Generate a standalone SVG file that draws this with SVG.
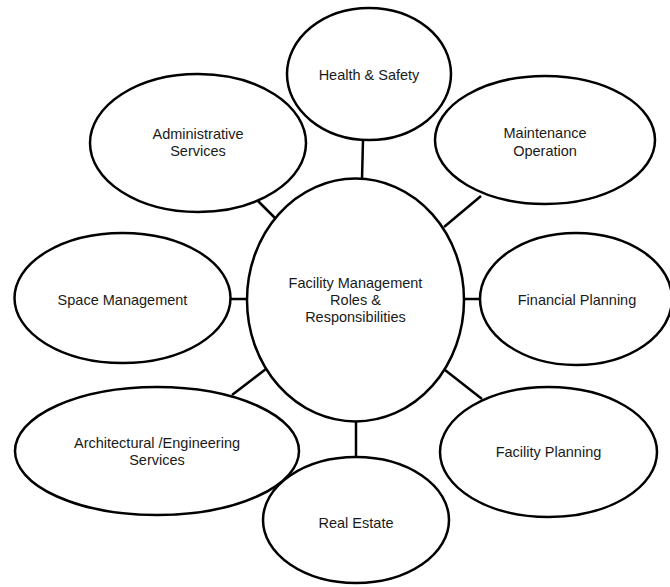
<svg xmlns="http://www.w3.org/2000/svg" width="670" height="587" viewBox="0 0 670 587">
  <style>
    .node ellipse { fill: #ffffff; stroke: #000000; stroke-width: 2.5; }
    .node text { font-family: "Liberation Sans", Arial, sans-serif; font-size: 14.5px; fill: #1a1a1a; text-anchor: middle; dominant-baseline: central; }
    .links line { stroke: #000000; stroke-width: 2.5; }
  </style>
  <rect width="670" height="587" fill="#ffffff"/>

  <!-- spokes from the hub to each role -->
  <g id="connectors" class="links">
    <line x1="363" y1="140" x2="362" y2="179"/>
    <line x1="481" y1="196" x2="444" y2="227"/>
    <line x1="257" y1="200" x2="275" y2="218"/>
    <line x1="230" y1="299" x2="248" y2="299"/>
    <line x1="463" y1="299" x2="481" y2="299"/>
    <line x1="232" y1="395" x2="266" y2="369"/>
    <line x1="445" y1="370" x2="482" y2="399"/>
    <line x1="356" y1="420" x2="356" y2="458"/>
  </g>

  <g id="health-safety" class="node">
    <ellipse cx="369" cy="74" rx="82" ry="66"/>
    <text x="369" y="75">Health &amp; Safety</text>
  </g>

  <g id="administrative-services" class="node">
    <ellipse cx="198" cy="143" rx="108" ry="69"/>
    <text x="198" y="134">Administrative</text>
    <text x="198" y="151">Services</text>
  </g>

  <g id="maintenance-operation" class="node">
    <ellipse cx="545" cy="140" rx="110" ry="64"/>
    <text x="545" y="133">Maintenance</text>
    <text x="545" y="151">Operation</text>
  </g>

  <g id="space-management" class="node">
    <ellipse cx="122.5" cy="298" rx="108" ry="65"/>
    <text x="122.5" y="300">Space Management</text>
  </g>

  <g id="financial-planning" class="node">
    <ellipse cx="576" cy="299" rx="96" ry="66"/>
    <text x="577" y="300">Financial Planning</text>
  </g>

  <g id="architectural-engineering" class="node">
    <ellipse cx="157" cy="451" rx="142" ry="64"/>
    <text x="157" y="443">Architectural /Engineering</text>
    <text x="157" y="460">Services</text>
  </g>

  <g id="facility-planning" class="node">
    <ellipse cx="548.5" cy="452" rx="108.5" ry="65"/>
    <text x="548.5" y="452">Facility Planning</text>
  </g>

  <g id="real-estate" class="node">
    <ellipse cx="356" cy="520" rx="93" ry="63"/>
    <text x="356" y="523">Real Estate</text>
  </g>

  <g id="facility-management" class="node">
    <ellipse cx="355.5" cy="300" rx="108.5" ry="121.5"/>
    <text x="355.5" y="283">Facility Management</text>
    <text x="355.5" y="300">Roles &amp;</text>
    <text x="355.5" y="317">Responsibilities</text>
  </g>
</svg>
